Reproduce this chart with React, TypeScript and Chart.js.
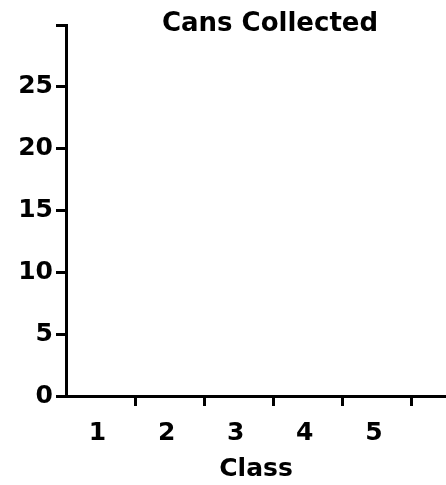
import React, { useEffect, useRef } from "react";
import { Chart, registerables } from "chart.js";

Chart.register(...registerables);

// ---- data ----
const chartTitle = "Cans Collected";
const xAxisTitle = "Class";
const classes = ["1", "2", "3", "4", "5"];
const cansCollected: (number | null)[] = [null, null, null, null, null];
const yTickValues = [0, 5, 10, 15, 20, 25, 30];
const yHiddenLabels = [30];

const FONT = "'DejaVu Sans', 'Liberation Sans', sans-serif";

const titlePlugin = {
  id: "customTitle",
  afterDraw(chart: any) {
    const { ctx } = chart;
    ctx.save();
    ctx.font = `bold 26px ${FONT}`;
    ctx.fillStyle = "#000";
    ctx.textAlign = "center";
    ctx.textBaseline = "middle";
    ctx.fillText(chartTitle, 270, 24);
    ctx.restore();
  },
};

export default function App() {
  const ref = useRef<HTMLCanvasElement>(null);

  useEffect(() => {
    document.body.style.margin = "0";
    const canvas = ref.current;
    if (!canvas) return;
    const chart = new Chart(canvas, {
      type: "bar",
      data: {
        datasets: [
          {
            label: chartTitle,
            data: classes.map((_, i) => ({ x: i + 1, y: cansCollected[i] })) as any,
            backgroundColor: "#000",
          },
        ],
      },
      options: {
        responsive: false,
        animation: false,
        layout: { padding: { left: 18, top: 25, right: 0, bottom: 0 } },
        plugins: {
          legend: { display: false },
          tooltip: { enabled: false },
          title: { display: false },
        },
        scales: {
          x: {
            type: "linear",
            min: 0.5,
            max: 6,
            offset: false,
            afterBuildTicks: (scale: any) => {
              scale.ticks = classes.map((_, i) => ({ value: i + 1 }));
            },
            afterFit: (scale: any) => {
              scale.height = 89;
            },
            ticks: {
              color: "#000",
              font: { family: FONT, size: 25, weight: "bold" },
              padding: 12,
              labelOffset: -3,
              maxRotation: 0,
              autoSkip: false,
              callback: (v: any) => classes[Number(v) - 1] ?? "",
            },
            grid: {
              offset: true,
              drawOnChartArea: false,
              drawTicks: true,
              tickLength: 10,
              lineWidth: 3,
              color: (c: any) => (c.index === 0 ? "rgba(0,0,0,0)" : "#000"),
            },
            border: { display: true, color: "#000", width: 3 },
            title: {
              display: true,
              text: xAxisTitle,
              color: "#000",
              font: { family: FONT, size: 25, weight: "bold" },
              padding: { top: 6, bottom: 1 },
            },
          },
          y: {
            type: "linear",
            min: 0,
            max: 30,
            afterBuildTicks: (scale: any) => {
              scale.ticks = yTickValues.map((v) => ({ value: v }));
            },
            afterFit: (scale: any) => {
              scale.width = 48;
            },
            ticks: {
              color: "#000",
              font: { family: FONT, size: 25, weight: "bold" },
              padding: 3,
              callback: (v: any) => (yHiddenLabels.includes(Number(v)) ? "" : String(v)),
            },
            grid: {
              drawOnChartArea: false,
              drawTicks: true,
              tickLength: 10,
              lineWidth: 3,
              color: "#000",
            },
            border: { display: true, color: "#000", width: 3 },
          },
        },
      },
      plugins: [titlePlugin],
    });
    return () => chart.destroy();
  }, []);

  return (
    <div style={{ width: 446, height: 485, background: "#fff" }}>
      <canvas ref={ref} width={446} height={485} />
    </div>
  );
}
